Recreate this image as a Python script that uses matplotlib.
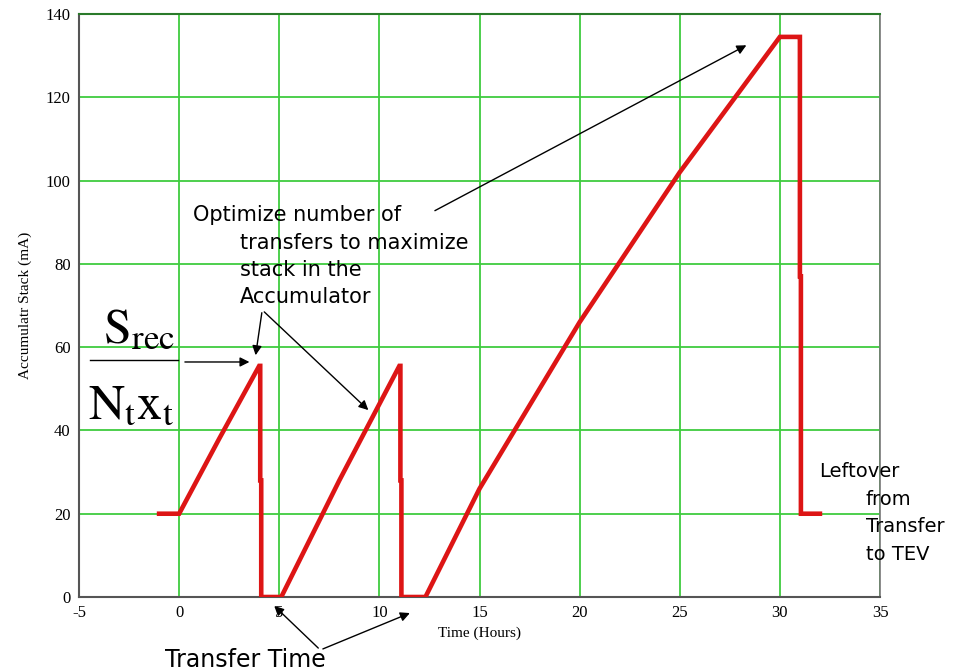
import matplotlib.pyplot as plt

plt.rcParams['mathtext.fontset'] = 'stix'
plt.rcParams['axes.unicode_minus'] = False

# stack profile (hours, mA)
time_h = [-1.0, 0.0, 2.0, 4.0, 4.05, 4.05, 4.1, 4.1, 5.1, 8.0, 11.0, 11.05, 11.05, 11.1, 11.1,
          12.3, 15.0, 20.0, 25.0, 30.0, 30.95, 31.0, 31.0, 31.05, 31.05, 32.0]
stack_ma = [20, 20, 38, 55.5, 55.5, 28, 28, 0, 0, 28, 55.5, 55.5, 28, 28, 0,
            0, 26, 66, 102, 134.5, 134.5, 134.5, 77, 77, 20, 20]

x_ticks = [-5, 0, 5, 10, 15, 20, 25, 30, 35]
y_ticks = [0, 20, 40, 60, 80, 100, 120, 140]

fig = plt.figure(figsize=(9.65, 6.72), dpi=100)
ax = fig.add_axes([79 / 965, 75 / 672, 801 / 965, 583 / 672])

ax.plot(time_h, stack_ma, color='#dd1515', lw=3.3, solid_joinstyle='miter', zorder=3)

ax.set_xlim(-5, 35)
ax.set_ylim(0, 140)
ax.set_xticks(x_ticks)
ax.set_yticks(y_ticks)
ax.grid(True, color='#3fcc3f', lw=1.3)
ax.tick_params(length=0, labelsize=12, pad=6)
for lab in ax.get_xticklabels() + ax.get_yticklabels():
    lab.set_family('Liberation Serif')
for s in ['left', 'bottom']:
    ax.spines[s].set_color('#555555')
    ax.spines[s].set_linewidth(1.5)
ax.spines['top'].set_color('#2a7a2a')
ax.spines['top'].set_linewidth(1.5)
ax.spines['right'].set_color('#777777')
ax.spines['right'].set_linewidth(1.2)

ax.set_xlabel('Time (Hours)', family='Liberation Serif', fontsize=11, labelpad=4)
ax.set_ylabel('Accumulatr Stack (mA)', family='Liberation Serif', fontsize=11, labelpad=10)

arrow = dict(arrowstyle='-|>', color='black', lw=1, mutation_scale=14)
hand = dict(fontsize=14, family='DejaVu Sans', color='black', va='center')


def px(x, y):
    # figure pixel -> data coords
    return ((x - 179) / 20.0, (597 - y) / 4.164)


# text block in the middle
blk = dict(hand, fontsize=15)
ax.text(*px(193, 215), 'Optimize number of', **blk)
ax.text(*px(240, 243), 'transfers to maximize', **blk)
ax.text(*px(240, 270), 'stack in the', **blk)
ax.text(*px(240, 297), 'Accumulator', **blk)

ax.annotate('', xy=px(748, 44), xytext=px(432, 212), arrowprops=arrow, annotation_clip=False)
ax.annotate('', xy=px(255, 358), xytext=px(262, 310), arrowprops=arrow, annotation_clip=False)
ax.annotate('', xy=px(370, 412), xytext=px(262, 310), arrowprops=arrow, annotation_clip=False)

# fraction on the left
ax.text(*px(139, 328), r'$\mathrm{S}_{\mathrm{rec}}$', fontsize=36, ha='center', va='center', clip_on=False)
ax.text(*px(131, 404), r'$\mathrm{N}_{\mathrm{t}}\mathrm{x}_{\mathrm{t}}$', fontsize=36, ha='center', va='center', clip_on=False)
ax.plot([px(90, 360)[0], px(178, 360)[0]], [px(90, 360)[1]] * 2, color='black', lw=1, clip_on=False)
ax.annotate('', xy=px(252, 362), xytext=px(182, 362), arrowprops=arrow, annotation_clip=False)

# transfer time
ax.text(*px(165, 660), 'Transfer Time', clip_on=False, **dict(hand, fontsize=17))
ax.annotate('', xy=px(272, 604), xytext=px(320, 650), arrowprops=arrow, annotation_clip=False)
ax.annotate('', xy=px(412, 612), xytext=px(320, 650), arrowprops=arrow, annotation_clip=False)

# leftover note
ax.text(*px(818, 472), 'Leftover', clip_on=False, **hand)
ax.text(*px(865, 500), 'from', clip_on=False, **hand)
ax.text(*px(865, 527), 'Transfer', clip_on=False, **hand)
ax.text(*px(865, 555), 'to TEV', clip_on=False, **hand)

fig.savefig('out.png', dpi=100)
